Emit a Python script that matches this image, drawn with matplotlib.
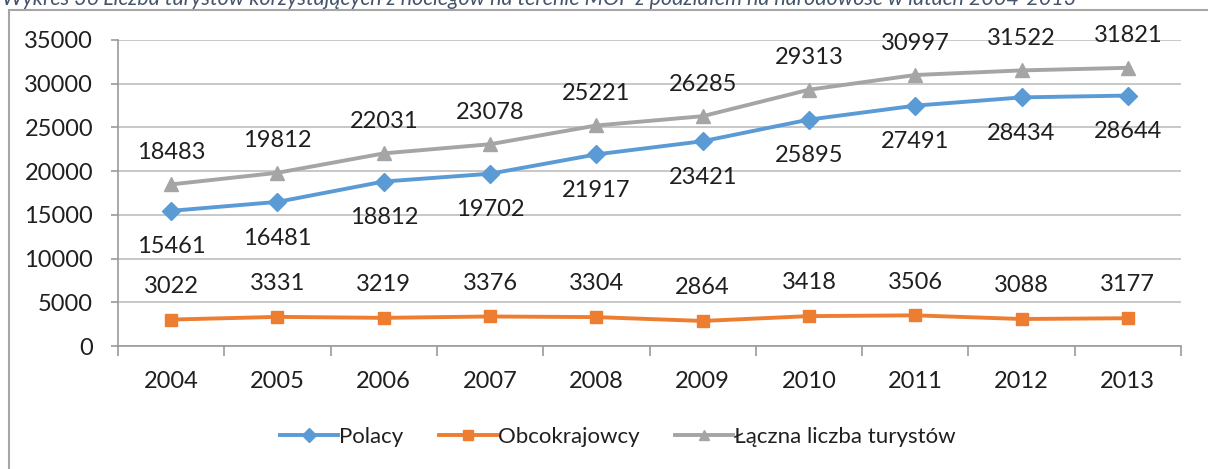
import matplotlib.pyplot as plt
from matplotlib.patches import Rectangle

years = ['2004', '2005', '2006', '2007', '2008', '2009', '2010', '2011', '2012', '2013']
polacy = [15461, 16481, 18812, 19702, 21917, 23421, 25895, 27491, 28434, 28644]
obcokrajowcy = [3022, 3331, 3219, 3376, 3304, 2864, 3418, 3506, 3088, 3177]
lacznie = [18483, 19812, 22031, 23078, 25221, 26285, 29313, 30997, 31522, 31821]
yticks = [0, 5000, 10000, 15000, 20000, 25000, 30000, 35000]
title = ('Wykres 36 Liczba turystów korzystających z noclegów na terenie MOF '
         'z podziałem na narodowość w latach 2004-2013')

plt.rcParams['font.family'] = ['Lato', 'DejaVu Sans']
W, H = 1208, 469
fig = plt.figure(figsize=(W / 100, H / 100), dpi=100)

# chart frame (clipped at right and bottom like the source)
fig.patches.append(Rectangle((9 / W, -0.1), 1.2, 1 - 10 / H + 0.1,
                             transform=fig.transFigure, fill=False,
                             edgecolor='#A6A6A6', linewidth=1.5))
fig.text(2 / W, 1 + 1 / H, title, fontsize=15.5, style='italic',
         color='#44546A', ha='left', va='center')

ax = fig.add_axes([118 / W, 1 - 346 / H, (1181 - 118) / W, (346 - 40) / H])
x = list(range(len(years)))

ax.plot(x, polacy, color='#5B9BD5', lw=2.8, marker='D', ms=9, label='Polacy')
ax.plot(x, obcokrajowcy, color='#ED7D31', lw=2.8, marker='s', ms=9,
        label='Obcokrajowcy')
ax.plot(x, lacznie, color='#A5A5A5', lw=2.8, marker='^', ms=10,
        label='Łączna liczba turystów')

txt = '#1f1f1f'
fs = 17
lab = dict(fontsize=fs, color=txt, ha='center', va='center',
           textcoords='offset points')
for i in x:
    ax.annotate(str(lacznie[i]), (i, lacznie[i]), xytext=(0, 23), **lab)
    ax.annotate(str(polacy[i]), (i, polacy[i]), xytext=(0, -26), **lab)
    ax.annotate(str(obcokrajowcy[i]), (i, obcokrajowcy[i]), xytext=(0, 24), **lab)

ax.set_xlim(-0.5, len(years) - 0.5)
ax.set_ylim(0, 35000)
ax.set_yticks(yticks)
ax.set_yticklabels([str(v) for v in yticks])
ax.grid(axis='y', color='#BFBFBF', lw=1.2)
ax.set_axisbelow(True)

ax.set_xticks(x)
ax.set_xticklabels(years)
ax.set_xticks([i - 0.5 for i in range(len(years) + 1)], minor=True)
ax.tick_params(axis='x', which='major', length=0, pad=18, labelsize=fs,
               labelcolor=txt)
ax.tick_params(axis='x', which='minor', length=7, color='#9a9a9a', width=1.2)
ax.tick_params(axis='y', length=5, color='#9a9a9a', width=1.2, pad=13,
               labelsize=fs, labelcolor=txt)

for s in ['top', 'right']:
    ax.spines[s].set_visible(False)
ax.spines['left'].set_color('#9a9a9a')
ax.spines['bottom'].set_color('#9a9a9a')
ax.spines['left'].set_linewidth(1.2)
ax.spines['bottom'].set_linewidth(1.2)

leg = fig.legend(loc='center', bbox_to_anchor=(618 / W, 1 - 437 / H), ncol=3,
                 frameon=False, handlelength=2.6, markerscale=0.75,
                 columnspacing=1.6, handletextpad=0.05,
                 prop={'size': 16})
for t in leg.get_texts():
    t.set_color(txt)

fig.savefig('out.png', dpi=100)
